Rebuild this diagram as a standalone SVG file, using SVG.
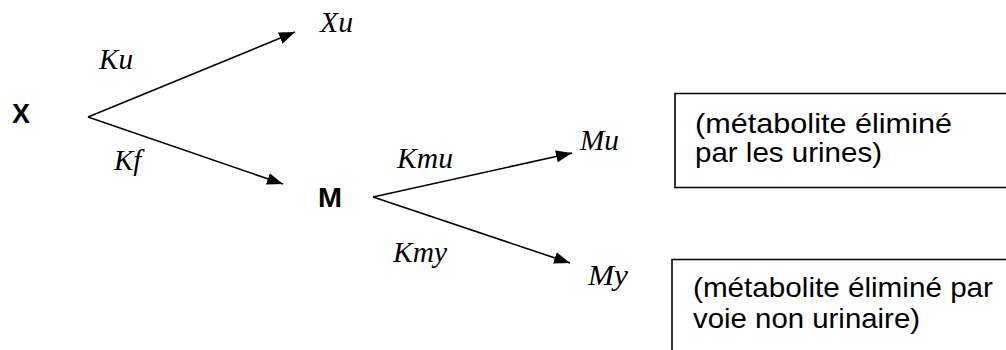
<svg xmlns="http://www.w3.org/2000/svg" width="1006" height="350" viewBox="0 0 1006 350">
<style>
.node-b{font-family:"Liberation Sans",Arial,sans-serif;font-weight:bold;font-size:27px;fill:#000}
.lbl{font-family:"Liberation Serif","Times New Roman",serif;font-style:italic;font-size:29px;fill:#000}
.box-t{font-family:"Liberation Sans",Arial,sans-serif;font-size:28px;fill:#000}
.edge{stroke:#000;stroke-width:1.6;fill:none}
.box{stroke:#000;stroke-width:1.6;fill:none}
</style>
<defs>
<marker id="ah" markerUnits="userSpaceOnUse" markerWidth="17" markerHeight="12" refX="16" refY="6" orient="auto" viewBox="0 0 17 12">
<path d="M0,0 L16,6 L0,12 z" fill="#000"/>
</marker>
</defs>
<rect width="1006" height="350" fill="#fff"/>
<g id="connectors">
<line class="edge" x1="88" y1="117" x2="295" y2="32" marker-end="url(#ah)"/>
<line class="edge" x1="88" y1="117" x2="283" y2="184" marker-end="url(#ah)"/>
<line class="edge" x1="373" y1="197" x2="572" y2="153" marker-end="url(#ah)"/>
<line class="edge" x1="373" y1="197" x2="570" y2="263" marker-end="url(#ah)"/>
</g>
<g id="node-X"><text class="node-b" x="12" y="123" textLength="18" lengthAdjust="spacingAndGlyphs">X</text></g>
<g id="node-Xu"><text class="lbl" x="320" y="32" textLength="33" lengthAdjust="spacingAndGlyphs">Xu</text></g>
<g id="label-Ku"><text class="lbl" x="99" y="69" textLength="34" lengthAdjust="spacingAndGlyphs">Ku</text></g>
<g id="label-Kf"><text class="lbl" x="114" y="170">Kf</text></g>
<g id="node-M"><text class="node-b" x="318" y="207" textLength="24" lengthAdjust="spacingAndGlyphs">M</text></g>
<g id="label-Kmu"><text class="lbl" x="397" y="168" textLength="56" lengthAdjust="spacingAndGlyphs">Kmu</text></g>
<g id="node-Mu"><text class="lbl" x="580" y="150" textLength="39" lengthAdjust="spacingAndGlyphs">Mu</text></g>
<g id="label-Kmy"><text class="lbl" x="393" y="262" textLength="54" lengthAdjust="spacingAndGlyphs">Kmy</text></g>
<g id="node-My"><text class="lbl" x="588" y="285" textLength="40" lengthAdjust="spacingAndGlyphs">My</text></g>
<g id="box-urine">
<path class="box" d="M1006,93.5 H675 V187.5 H1006"/>
<text class="box-t" x="695" y="133" textLength="257" lengthAdjust="spacingAndGlyphs">(métabolite éliminé</text>
<text class="box-t" x="695" y="162" textLength="187" lengthAdjust="spacingAndGlyphs">par les urines)</text>
</g>
<g id="box-nonurine">
<path class="box" d="M1006,259.5 H672 V350"/>
<text class="box-t" x="693" y="297" textLength="300" lengthAdjust="spacingAndGlyphs">(métabolite éliminé par</text>
<text class="box-t" x="693" y="328" textLength="227" lengthAdjust="spacingAndGlyphs">voie non urinaire)</text>
</g>
</svg>
